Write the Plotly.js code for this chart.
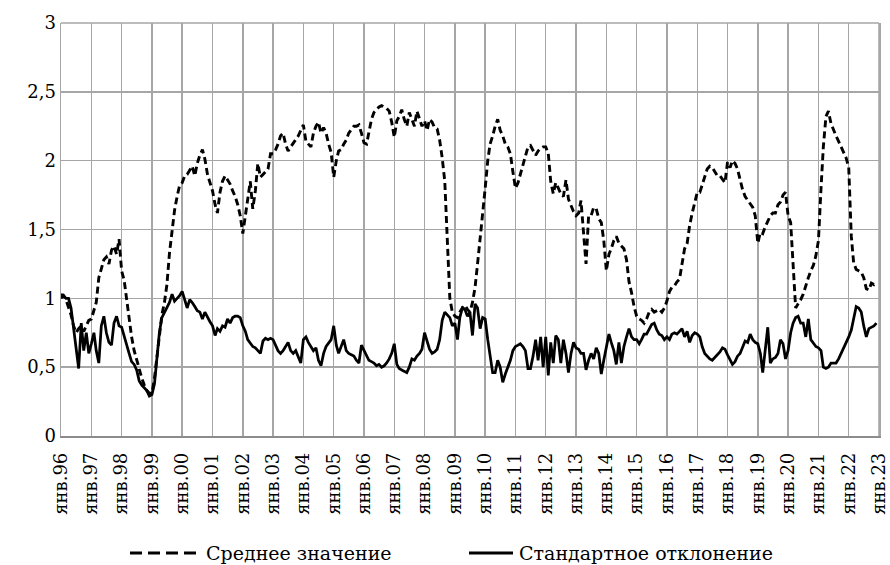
<!DOCTYPE html>
<html>
<head>
<meta charset="utf-8">
<script src="https://cdn.plot.ly/plotly-3.0.1.min.js"></script>
<style>
  html, body { margin: 0; padding: 0; background: #ffffff; }
  #chart { width: 890px; height: 565px; }
</style>
</head>
<body>
<div id="chart"></div>
<script>
// Monthly series, January 1996 - December 2022 (12 values per row = one year)
const startYear = 1996;

const meanValues = [
  1.00, 1.02, 0.99, 0.94, 0.88, 0.80, 0.75, 0.78, 0.80, 0.76, 0.80, 0.84, // 1996
  0.85, 0.92, 0.97, 1.15, 1.22, 1.28, 1.30, 1.25, 1.35, 1.38, 1.32, 1.43, // 1997
  1.20, 1.13, 1.00, 0.85, 0.72, 0.62, 0.55, 0.48, 0.42, 0.37, 0.33, 0.31, // 1998
  0.31, 0.42, 0.58, 0.75, 0.88, 0.97, 1.10, 1.33, 1.50, 1.64, 1.74, 1.82, // 1999
  1.84, 1.89, 1.90, 1.93, 1.96, 1.89, 1.98, 2.04, 2.08, 2.01, 1.90, 1.84, // 2000
  1.78, 1.68, 1.62, 1.77, 1.85, 1.89, 1.86, 1.83, 1.78, 1.74, 1.68, 1.60, // 2001
  1.47, 1.60, 1.75, 1.85, 1.65, 1.78, 1.98, 1.88, 1.90, 1.92, 1.94, 2.05, // 2002
  2.05, 2.08, 2.12, 2.18, 2.20, 2.12, 2.07, 2.10, 2.13, 2.15, 2.18, 2.22, // 2003
  2.26, 2.14, 2.12, 2.10, 2.20, 2.25, 2.28, 2.20, 2.24, 2.20, 2.12, 2.06, // 2004
  1.88, 2.00, 2.07, 2.08, 2.12, 2.15, 2.20, 2.23, 2.25, 2.25, 2.26, 2.20, // 2005
  2.13, 2.12, 2.20, 2.30, 2.35, 2.37, 2.39, 2.40, 2.39, 2.38, 2.36, 2.28, // 2006
  2.17, 2.29, 2.32, 2.37, 2.30, 2.25, 2.35, 2.30, 2.25, 2.36, 2.30, 2.25, // 2007
  2.29, 2.22, 2.30, 2.28, 2.24, 2.23, 2.15, 2.02, 1.85, 1.40, 1.00, 0.90, // 2008
  0.87, 0.86, 0.90, 0.93, 0.95, 0.92, 0.90, 0.97, 1.08, 1.25, 1.42, 1.60, // 2009
  1.80, 2.00, 2.12, 2.18, 2.25, 2.30, 2.22, 2.18, 2.12, 2.10, 2.05, 1.92, // 2010
  1.80, 1.84, 1.90, 1.98, 2.05, 2.10, 2.11, 2.08, 2.04, 2.07, 2.09, 2.10, // 2011
  2.10, 2.05, 1.85, 1.76, 1.84, 1.80, 1.76, 1.74, 1.86, 1.72, 1.67, 1.63, // 2012
  1.60, 1.62, 1.71, 1.50, 1.25, 1.60, 1.60, 1.66, 1.65, 1.58, 1.55, 1.42, // 2013
  1.20, 1.32, 1.36, 1.42, 1.45, 1.40, 1.38, 1.36, 1.28, 1.12, 1.04, 0.94, // 2014
  0.87, 0.85, 0.84, 0.82, 0.85, 0.90, 0.92, 0.90, 0.91, 0.92, 0.90, 0.93, // 2015
  0.98, 1.05, 1.08, 1.09, 1.12, 1.14, 1.25, 1.36, 1.40, 1.53, 1.62, 1.70, // 2016
  1.77, 1.77, 1.82, 1.88, 1.94, 1.96, 1.95, 1.92, 1.89, 1.89, 1.86, 1.84, // 2017
  1.99, 1.95, 2.00, 1.98, 1.94, 1.86, 1.79, 1.74, 1.71, 1.68, 1.66, 1.60, // 2018
  1.40, 1.48, 1.47, 1.52, 1.56, 1.60, 1.62, 1.62, 1.68, 1.70, 1.75, 1.77, // 2019
  1.60, 1.55, 1.25, 0.93, 0.96, 0.99, 1.03, 1.10, 1.15, 1.20, 1.24, 1.31, // 2020
  1.42, 1.80, 2.10, 2.32, 2.36, 2.27, 2.22, 2.18, 2.14, 2.10, 2.06, 2.02, // 2021
  1.95, 1.45, 1.26, 1.21, 1.20, 1.19, 1.15, 1.07, 1.06, 1.11, 1.10, 1.12  // 2022
];

const stdValues = [
  1.03, 1.02, 1.00, 1.00, 0.93, 0.78, 0.65, 0.49, 0.82, 0.62, 0.75, 0.60, // 1996
  0.67, 0.75, 0.62, 0.53, 0.80, 0.87, 0.75, 0.68, 0.66, 0.82, 0.87, 0.80, // 1997
  0.79, 0.72, 0.66, 0.60, 0.54, 0.52, 0.48, 0.40, 0.37, 0.35, 0.33, 0.29, // 1998
  0.30, 0.38, 0.57, 0.75, 0.86, 0.90, 0.93, 0.97, 1.03, 0.98, 1.00, 1.02, // 1999
  1.05, 0.98, 0.93, 0.99, 0.97, 0.94, 0.91, 0.90, 0.85, 0.90, 0.86, 0.83, // 2000
  0.80, 0.73, 0.78, 0.76, 0.80, 0.79, 0.85, 0.82, 0.86, 0.87, 0.87, 0.86, // 2001
  0.80, 0.76, 0.70, 0.67, 0.65, 0.64, 0.62, 0.60, 0.69, 0.71, 0.70, 0.71, // 2002
  0.70, 0.66, 0.62, 0.60, 0.62, 0.65, 0.68, 0.62, 0.60, 0.62, 0.58, 0.53, // 2003
  0.70, 0.72, 0.68, 0.65, 0.62, 0.64, 0.55, 0.51, 0.60, 0.65, 0.68, 0.70, // 2004
  0.80, 0.66, 0.60, 0.66, 0.70, 0.62, 0.60, 0.59, 0.58, 0.55, 0.53, 0.66, // 2005
  0.62, 0.58, 0.55, 0.54, 0.53, 0.51, 0.52, 0.50, 0.51, 0.53, 0.56, 0.60, // 2006
  0.67, 0.52, 0.49, 0.48, 0.47, 0.46, 0.50, 0.56, 0.55, 0.58, 0.60, 0.63, // 2007
  0.75, 0.68, 0.63, 0.60, 0.61, 0.63, 0.70, 0.84, 0.90, 0.88, 0.86, 0.80, // 2008
  0.82, 0.70, 0.86, 0.93, 0.92, 0.87, 0.90, 0.73, 0.96, 0.93, 0.78, 0.86, // 2009
  0.85, 0.70, 0.57, 0.46, 0.46, 0.55, 0.50, 0.39, 0.45, 0.50, 0.55, 0.62, // 2010
  0.65, 0.66, 0.67, 0.65, 0.62, 0.49, 0.49, 0.58, 0.70, 0.55, 0.72, 0.50, // 2011
  0.72, 0.44, 0.68, 0.53, 0.73, 0.70, 0.53, 0.70, 0.60, 0.46, 0.60, 0.68, // 2012
  0.64, 0.63, 0.60, 0.60, 0.48, 0.55, 0.60, 0.56, 0.64, 0.60, 0.45, 0.55, // 2013
  0.65, 0.74, 0.68, 0.62, 0.52, 0.68, 0.53, 0.65, 0.72, 0.78, 0.72, 0.70, // 2014
  0.70, 0.67, 0.70, 0.74, 0.74, 0.78, 0.81, 0.82, 0.77, 0.74, 0.73, 0.70, // 2015
  0.72, 0.70, 0.74, 0.75, 0.74, 0.76, 0.78, 0.72, 0.76, 0.68, 0.73, 0.75, // 2016
  0.74, 0.72, 0.65, 0.60, 0.58, 0.56, 0.55, 0.57, 0.59, 0.61, 0.64, 0.63, // 2017
  0.59, 0.55, 0.52, 0.54, 0.58, 0.60, 0.65, 0.69, 0.68, 0.74, 0.70, 0.68, // 2018
  0.67, 0.60, 0.46, 0.62, 0.79, 0.53, 0.56, 0.57, 0.60, 0.70, 0.67, 0.56, // 2019
  0.62, 0.75, 0.82, 0.86, 0.87, 0.82, 0.82, 0.72, 0.85, 0.70, 0.67, 0.65, // 2020
  0.64, 0.62, 0.50, 0.49, 0.50, 0.53, 0.53, 0.53, 0.56, 0.60, 0.64, 0.67, // 2021
  0.72, 0.77, 0.85, 0.94, 0.93, 0.90, 0.80, 0.72, 0.78, 0.79, 0.80, 0.82  // 2022
];

const tickYears = [1996, 1997, 1998, 1999, 2000, 2001, 2002, 2003, 2004, 2005,
  2006, 2007, 2008, 2009, 2010, 2011, 2012, 2013, 2014, 2015, 2016, 2017,
  2018, 2019, 2020, 2021, 2022, 2023];
const tickLabels = ["янв.96", "янв.97", "янв.98", "янв.99", "янв.00", "янв.01",
  "янв.02", "янв.03", "янв.04", "янв.05", "янв.06", "янв.07", "янв.08",
  "янв.09", "янв.10", "янв.11", "янв.12", "янв.13", "янв.14", "янв.15",
  "янв.16", "янв.17", "янв.18", "янв.19", "янв.20", "янв.21", "янв.22", "янв.23"];

const seriesNames = ["Среднее значение", "Стандартное отклонение"];

// month dates for the categories
const months = meanValues.map(function (_, i) {
  const y = startYear + Math.floor(i / 12);
  const m = (i % 12) + 1;
  return y + "-" + (m < 10 ? "0" + m : m) + "-01";
});
const tickVals = tickYears.map(function (y) { return y + "-01-01"; });

const serif = "'DejaVu Serif', 'Liberation Serif', serif";
const meanDash = "7px,4px";

const traces = [
  {
    x: months, y: meanValues, name: seriesNames[0], type: "scatter", mode: "lines",
    line: { color: "#000000", width: 2.9, dash: meanDash }
  },
  {
    x: months, y: stdValues, name: seriesNames[1], type: "scatter", mode: "lines",
    line: { color: "#000000", width: 2.75 }
  }
];

// custom legend below the plot (paper coordinates)
const plotL = 61, plotR = 879, plotB = 436, plotT = 23;
const plotW = plotR - plotL, plotH = plotB - plotT;
function px(x) { return (x - plotL) / plotW; }
function py(y) { return (plotB - y) / plotH; }
const legendY = 553;

const shapes = [
  { type: "line", xref: "paper", yref: "paper", x0: px(130), x1: px(197), y0: py(legendY), y1: py(legendY),
    line: { color: "#000000", width: 2.9, dash: "12px,6px" } },
  { type: "line", xref: "paper", yref: "paper", x0: px(469), x1: px(513), y0: py(legendY), y1: py(legendY),
    line: { color: "#000000", width: 2.9 } },
  // plot frame: top and right edges (the grid lines at 3 and янв.23)
  { type: "line", xref: "paper", yref: "paper", x0: 0, x1: 1, y0: 1, y1: 1,
    line: { color: "#a6a6a6", width: 1.5 }, layer: "below" },
  { type: "line", xref: "paper", yref: "paper", x0: 1, x1: 1, y0: 0, y1: 1,
    line: { color: "#a6a6a6", width: 1.5 }, layer: "below" }
];
const annotations = [
  { xref: "paper", yref: "paper", x: px(204), y: py(legendY), xanchor: "left", yanchor: "middle",
    text: seriesNames[0], showarrow: false, font: { family: serif, size: 19, color: "#000000" } },
  { xref: "paper", yref: "paper", x: px(517), y: py(legendY), xanchor: "left", yanchor: "middle",
    text: seriesNames[1], showarrow: false, font: { family: serif, size: 19, color: "#000000" } }
];

const layout = {
  width: 890, height: 565,
  margin: { l: plotL, r: 890 - plotR, t: plotT, b: 565 - plotB, pad: 0 },
  paper_bgcolor: "#ffffff", plot_bgcolor: "#ffffff",
  separators: ", ",
  showlegend: false,
  font: { family: serif, color: "#000000", size: 18 },
  xaxis: {
    type: "date",
    range: [tickVals[0], tickVals[tickVals.length - 1]],
    tickmode: "array", tickvals: tickVals, ticktext: tickLabels,
    tickangle: -90,
    ticks: "", ticklen: 0,
    ticklabelstandoff: 8,
    ticklabeloverflow: "allow",
    tickfont: { family: serif, size: 18, color: "#000000" },
    showgrid: true, gridcolor: "#a6a6a6", gridwidth: 1.5,
    showline: true, linecolor: "#8c8c8c", linewidth: 1.5, mirror: false,
    zeroline: false, automargin: false
  },
  yaxis: {
    range: [0, 3], dtick: 0.5, tick0: 0,
    ticks: "", ticklen: 0,
    tickfont: { family: serif, size: 18, color: "#000000" },
    showgrid: true, gridcolor: "#a6a6a6", gridwidth: 1.5,
    showline: true, linecolor: "#a6a6a6", linewidth: 1.5, mirror: "allticks",
    zeroline: false, automargin: false
  },
  shapes: shapes,
  annotations: annotations
};

Plotly.newPlot("chart", traces, layout, { staticPlot: true, displayModeBar: false });
</script>
</body>
</html>
